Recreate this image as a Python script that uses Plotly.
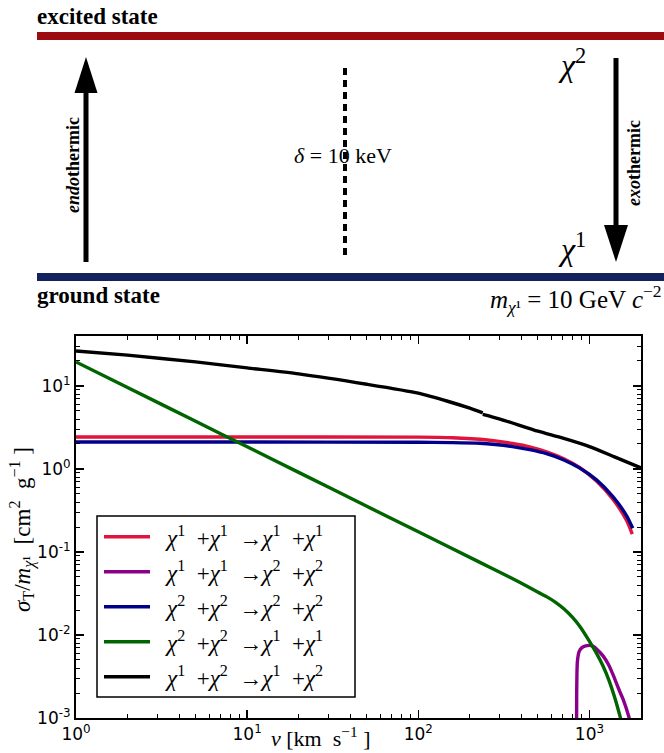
import plotly.graph_objects as go
import numpy as np

W, H = 664, 753

# ---------------- data ----------------
v_red = [1, 10, 100, 158, 229, 282, 355, 447, 561, 708, 879, 1099, 1374, 1648, 1778]
s_red = [2.43, 2.43, 2.42, 2.38, 2.28, 2.18, 2.03, 1.85, 1.61, 1.33, 1.035, 0.716, 0.429, 0.239, 0.164]

v_purple = [840, 842, 845, 850, 870, 900, 950, 1000, 1050, 1100, 1200, 1300, 1375, 1500, 1577, 1706, 1750]
s_purple = [0.0005, 0.002, 0.0035, 0.0048, 0.0063, 0.0070, 0.0074, 0.0075, 0.0073, 0.0068, 0.0056, 0.0043, 0.0033, 0.0021, 0.00165, 0.001, 0.0008]

v_blue = [1, 10, 100, 158, 229, 282, 355, 447, 561, 708, 879, 1099, 1374, 1648, 1790]
s_blue = [2.11, 2.11, 2.10, 2.08, 2.04, 1.97, 1.86, 1.71, 1.53, 1.285, 1.023, 0.74, 0.462, 0.273, 0.193]

v_green = [1, 2, 5, 10, 20, 50, 100, 229, 316, 398, 501, 561, 631, 708, 794, 879, 1000, 1100, 1202, 1300, 1400, 1506, 1585]
s_green = [19.5, 9.6, 3.75, 1.85, 0.91, 0.355, 0.175, 0.075, 0.054, 0.0422, 0.0327, 0.029, 0.0249, 0.0207, 0.0164, 0.01265, 0.00838, 0.0060, 0.0042, 0.00284, 0.0018, 0.00106, 0.0007]

# None marks the small step in the curve
v_black = [1, 2, 5, 10, 20, 50, 100, 150, 200, 238, None, 238, 300, 500, 700, 1000, 1400, 2000]
s_black = [26.4, 23.5, 19.5, 16.5, 14.0, 10.5, 8.2, 6.5, 5.4, 4.75, None, 4.55, 4.0, 2.85, 2.35, 1.86, 1.40, 1.03]

NB = "\u00a0"


def reaction(a, b, c, d):
    return (f"<i>χ</i><sup>{a}</sup>{NB}{NB}+<i>χ</i><sup>{b}</sup>{NB}{NB}→"
            f"<i>χ</i><sup>{c}</sup>{NB}{NB}+<i>χ</i><sup>{d}</sup>")


series_names = [reaction(1, 1, 1, 1), reaction(1, 1, 2, 2), reaction(2, 2, 2, 2),
                reaction(2, 2, 1, 1), reaction(1, 2, 1, 2)]
series_colors = ["#e0143c", "#8b008b", "#00008b", "#006400", "#000000"]

x_tickvals = [1, 10, 100, 1000]
x_ticktext = ["10<sup>0</sup>", "10<sup>1</sup>", "10<sup>2</sup>", "10<sup>3</sup>"]
y_tickvals = [1e-3, 1e-2, 1e-1, 1, 10]
y_ticktext = ["10<sup>-3</sup>", "10<sup>-2</sup>", "10<sup>-1</sup>", "10<sup>0</sup>", "10<sup>1</sup>"]

x_min, x_max = 1, 2000
y_min, y_max = 1e-3, 40


def px(x):
    return x / W


def py(y):
    return 1 - y / H


SERIF = "Liberation Serif"

fig = go.Figure()
all_v = [v_red, v_purple, v_blue, v_green, v_black]
all_s = [s_red, s_purple, s_blue, s_green, s_black]
for v, s, name, c in zip(all_v, all_s, series_names, series_colors):
    fig.add_trace(go.Scatter(x=v, y=s, mode="lines", name=name, connectgaps=False,
                             line=dict(color=c, width=3.4, shape="spline", smoothing=0.6),
                             showlegend=False, hoverinfo="skip"))

# plot area in page pixels
L, R, T, B = 76, 641, 336, 718

minor_x = [m * 10 ** k for k in range(0, 4) for m in range(2, 10) if m * 10 ** k < x_max]
minor_y = [m * 10.0 ** k for k in range(-3, 2) for m in range(2, 10) if m * 10.0 ** k < y_max]

axis_common = dict(showgrid=False, zeroline=False, showline=True, linecolor="black", automargin=False,
                   linewidth=2, mirror="allticks", ticks="inside", ticklen=8, tickwidth=1.5,
                   tickcolor="black", tickfont=dict(family="DejaVu Sans", size=17, color="black"))

fig.update_layout(
    template="none",
    width=W, height=H, margin=dict(l=0, r=0, t=0, b=0, pad=0), autosize=False,
    paper_bgcolor="white", plot_bgcolor="white",
    xaxis=dict(type="log", range=[np.log10(x_min), np.log10(x_max)], domain=[px(L), px(R)],
               tickvals=x_tickvals, ticktext=x_ticktext, anchor="y",
               minor=dict(tickvals=minor_x, ticks="inside", ticklen=4, tickwidth=1, tickcolor="black"),
               **axis_common),
    yaxis=dict(type="log", range=[np.log10(y_min), np.log10(y_max)], domain=[py(B), py(T)],
               tickvals=y_tickvals, ticktext=y_ticktext, anchor="x",
               minor=dict(tickvals=minor_y, ticks="inside", ticklen=4, tickwidth=1, tickcolor="black"),
               **axis_common),
    showlegend=False,
)

shapes = []
annotations = []


def text(x, y, t, size, xanchor="center", yanchor="middle", angle=0, family=SERIF):
    annotations.append(dict(xref="paper", yref="paper", x=px(x), y=py(y), xanchor=xanchor, yanchor=yanchor,
                            text=t, showarrow=False, textangle=angle, borderpad=0,
                            font=dict(family=family, size=size, color="black")))


# ---------- top diagram ----------
shapes.append(dict(type="rect", xref="paper", yref="paper", x0=px(37), x1=px(664), y0=py(32), y1=py(40),
                   fillcolor="#9b0b10", line=dict(width=0)))
shapes.append(dict(type="rect", xref="paper", yref="paper", x0=px(37), x1=px(664), y0=py(273), y1=py(281),
                   fillcolor="#13215c", line=dict(width=0)))
text(36, 17, "<b>excited state</b>", 23, xanchor="left")
text(36, 295, "<b>ground state</b>", 23, xanchor="left")
text(663, 299, "<i>m</i><sub><i>χ</i>¹</sub> = 10 GeV <i>c</i><sup>−2</sup>", 25, xanchor="right")

# left arrow (endothermic)
shapes.append(dict(type="line", xref="paper", yref="paper", x0=px(86), x1=px(86), y0=py(262), y1=py(90),
                   line=dict(color="black", width=5)))
shapes.append(dict(type="path", xref="paper", yref="paper",
                   path=f"M {px(74.5)},{py(93)} L {px(97.5)},{py(93)} L {px(86)},{py(57)} Z",
                   fillcolor="black", line=dict(width=0)))
text(73, 165, "<b><i>endo</i>thermic</b>", 18, angle=-90)

# right arrow (exothermic)
shapes.append(dict(type="line", xref="paper", yref="paper", x0=px(616), x1=px(616), y0=py(58), y1=py(228),
                   line=dict(color="black", width=5)))
shapes.append(dict(type="path", xref="paper", yref="paper",
                   path=f"M {px(604)},{py(225)} L {px(628)},{py(225)} L {px(616)},{py(262)} Z",
                   fillcolor="black", line=dict(width=0)))
text(634, 163, "<b><i>exo</i>thermic</b>", 18, angle=-90)

text(572, 63, "<i>χ</i><sup>2</sup>", 32)
text(572, 247, "<i>χ</i><sup>1</sup>", 32)

# dashed delta line
shapes.append(dict(type="line", xref="paper", yref="paper", x0=px(345), x1=px(345), y0=py(68), y1=py(257),
                   line=dict(color="black", width=4, dash="7px,5px")))
text(343, 155, "<i>δ</i> = 10 keV", 22)

# ---------- axis titles ----------
text(320, 737, f"<i>v</i>{NB}[km{NB}{NB}s<sup>−1</sup>{NB}]", 22)
text(22, 530, f"<i>σ</i><sub>T</sub>/<i>m</i><sub><i>χ</i>¹</sub>{NB}{NB}[cm<sup>2</sup>{NB}{NB}g<sup>−1</sup>{NB}]",
     23, angle=-90)

# ---------- legend (manual) ----------
shapes.append(dict(type="rect", xref="paper", yref="paper", x0=px(97), x1=px(355), y0=py(697), y1=py(516),
                   fillcolor="white", line=dict(color="black", width=1.5), layer="above"))
row_y = [536.7, 571.7, 606.7, 641.7, 676.7]
for ry, name, c in zip(row_y, series_names, series_colors):
    shapes.append(dict(type="line", xref="paper", yref="paper", x0=px(104), x1=px(150), y0=py(ry), y1=py(ry),
                       line=dict(color=c, width=3.4), layer="above"))
    text(164, ry, name, 23, xanchor="left")

fig.update_layout(shapes=shapes, annotations=annotations)
fig.write_html("out.html", config={"displayModeBar": False, "staticPlot": True},
               post_script="document.body.style.margin='0';document.body.style.overflow='hidden';")
